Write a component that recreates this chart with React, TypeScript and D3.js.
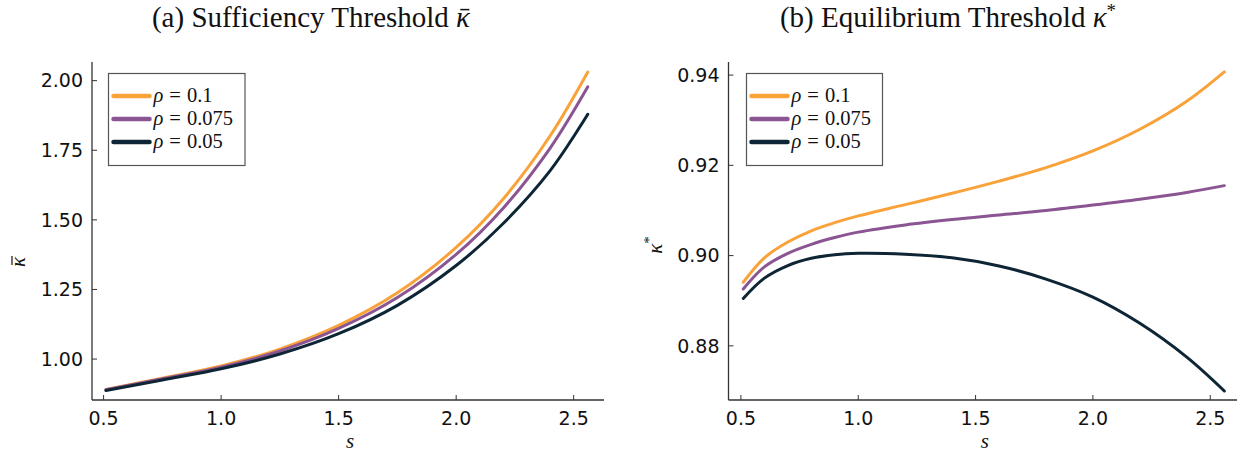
import React, { useEffect, useRef } from "react";
import * as d3 from "d3";

// Solver grid (s) and thresholds for each discount rate
const rhoLabels = ["0.1", "0.075", "0.05"];
const seriesColors = ["#f9a23a", "#8b5492", "#0d2535"];

const sGridBar = [0.51, 0.75, 1.0, 1.25, 1.5, 1.75, 2.0, 2.2, 2.4, 2.56];
const kappaBarRho10 = [0.891, 0.931, 0.975, 1.036, 1.121, 1.238, 1.401, 1.575, 1.802, 2.031];
const kappaBarRho075 = [0.890, 0.929, 0.971, 1.029, 1.110, 1.221, 1.376, 1.542, 1.758, 1.978];
const kappaBarRho05 = [0.887, 0.925, 0.965, 1.018, 1.091, 1.193, 1.336, 1.487, 1.677, 1.879];

const sGridStar = [0.51, 0.6, 0.7, 0.8, 0.9, 1.0, 1.2, 1.4, 1.6, 1.8, 2.0, 2.2, 2.4, 2.56];
const kappaStarRho10 = [0.8941, 0.8995, 0.9030, 0.9055, 0.9073, 0.9088, 0.9113, 0.9138, 0.9165, 0.9195, 0.9232, 0.9280, 0.9342, 0.9407];
const kappaStarRho075 = [0.8926, 0.8975, 0.9005, 0.9025, 0.9040, 0.9052, 0.9068, 0.9080, 0.9090, 0.9100, 0.9112, 0.9125, 0.9140, 0.9155];
const kappaStarRho05 = [0.8905, 0.8950, 0.8978, 0.8994, 0.9002, 0.9005, 0.9003, 0.8995, 0.8977, 0.8948, 0.8908, 0.8850, 0.8775, 0.8700];

const xTicks = [0.5, 1.0, 1.5, 2.0, 2.5];
const yTicksBar = [1.0, 1.25, 1.5, 1.75, 2.0];
const yTicksStar = [0.88, 0.9, 0.92, 0.94];

type Panel = {
  left: number;
  right: number;
  top: number;
  bottom: number;
  xDomain: [number, number];
  yDomain: [number, number];
  xs: number[];
  series: number[][];
  yTicks: number[];
  title: string;
  bar: boolean;
  sup: string;
  titleX: number;
  yLabelX: number;
  yLabelY: number;
  legend: { x: number; y: number; w: number; h: number };
};

const panels: Panel[] = [
  {
    left: 92,
    right: 604,
    top: 62,
    bottom: 400,
    xDomain: [0.4507, 2.629],
    yDomain: [0.853, 2.067],
    xs: sGridBar,
    series: [kappaBarRho10, kappaBarRho075, kappaBarRho05],
    yTicks: yTicksBar,
    title: "(a) Sufficiency Threshold ",
    bar: true,
    sup: "",
    titleX: 311,
    yLabelX: 25,
    yLabelY: 262,
    legend: { x: 108.5, y: 73.5, w: 136.5, h: 92 },
  },
  {
    left: 728.5,
    right: 1237,
    top: 62,
    bottom: 400,
    xDomain: [0.4471, 2.614],
    yDomain: [0.868, 0.9429],
    xs: sGridStar,
    series: [kappaStarRho10, kappaStarRho075, kappaStarRho05],
    yTicks: yTicksStar,
    title: "(b) Equilibrium Threshold ",
    bar: false,
    sup: "*",
    titleX: 948,
    yLabelX: 662,
    yLabelY: 245,
    legend: { x: 746.5, y: 73.5, w: 136, h: 92 },
  },
];

export default function App() {
  const ref = useRef<SVGSVGElement | null>(null);

  useEffect(() => {
    const svg = d3.select(ref.current);
    svg.selectAll("*").remove();

    panels.forEach((p) => {
      const x = d3.scaleLinear().domain(p.xDomain).range([p.left, p.right]);
      const y = d3.scaleLinear().domain(p.yDomain).range([p.bottom, p.top]);
      const g = svg.append("g");

      // Title
      const titleSize = 29;
      const titleBase = 27;
      const t = g
        .append("text")
        .attr("x", p.titleX)
        .attr("y", titleBase)
        .attr("text-anchor", "middle")
        .attr("font-family", "'Liberation Serif', serif")
        .attr("font-size", titleSize)
        .attr("fill", "#111");
      t.append("tspan").text(p.title);
      t.append("tspan").attr("font-style", "italic").text("κ");
      if (p.sup) {
        t.append("tspan").attr("dy", -10).attr("font-size", 19).text(p.sup);
      }
      if (p.bar) {
        const node = t.node() as SVGTextElement;
        const ext = node.getExtentOfChar(p.title.length);
        const by = titleBase - titleSize * 0.6;
        g.append("line")
          .attr("x1", ext.x + ext.width * 0.3)
          .attr("x2", ext.x + ext.width * 0.95)
          .attr("y1", by)
          .attr("y2", by)
          .attr("stroke", "#111")
          .attr("stroke-width", 1.5);
      }

      // Curves
      const line = d3
        .line<[number, number]>()
        .x((d) => x(d[0]))
        .y((d) => y(d[1]))
        .curve(d3.curveCatmullRom.alpha(0.5));
      p.series.forEach((vals, i) => {
        const pts: [number, number][] = p.xs.map((s, j) => [s, vals[j]]);
        g.append("path")
          .attr("d", line(pts) as string)
          .attr("fill", "none")
          .attr("stroke", seriesColors[i])
          .attr("stroke-width", 3)
          .attr("stroke-linecap", "round");
      });

      // Spines
      g.append("line")
        .attr("x1", p.left)
        .attr("x2", p.right)
        .attr("y1", p.bottom)
        .attr("y2", p.bottom)
        .attr("stroke", "#333")
        .attr("stroke-width", 1.3);
      g.append("line")
        .attr("x1", p.left)
        .attr("x2", p.left)
        .attr("y1", p.top)
        .attr("y2", p.bottom)
        .attr("stroke", "#333")
        .attr("stroke-width", 1.3);

      // X ticks (pointing inward)
      xTicks.forEach((v) => {
        g.append("line")
          .attr("x1", x(v))
          .attr("x2", x(v))
          .attr("y1", p.bottom)
          .attr("y2", p.bottom - 5)
          .attr("stroke", "#333")
          .attr("stroke-width", 1);
        g.append("text")
          .attr("x", x(v))
          .attr("y", p.bottom + 25)
          .attr("text-anchor", "middle")
          .attr("font-family", "'DejaVu Sans', sans-serif")
          .attr("font-size", 19)
          .attr("fill", "#111")
          .text(d3.format(".1f")(v));
      });

      // Y ticks
      const fmt = d3.format(".2f");
      p.yTicks.forEach((v) => {
        g.append("line")
          .attr("x1", p.left)
          .attr("x2", p.left + 5)
          .attr("y1", y(v))
          .attr("y2", y(v))
          .attr("stroke", "#333")
          .attr("stroke-width", 1);
        g.append("text")
          .attr("x", p.left - 9)
          .attr("y", y(v))
          .attr("dy", "0.36em")
          .attr("text-anchor", "end")
          .attr("font-family", "'DejaVu Sans', sans-serif")
          .attr("font-size", 19)
          .attr("fill", "#111")
          .text(fmt(v));
      });

      // X axis label
      g.append("text")
        .attr("x", (p.left + p.right) / 2 + 2)
        .attr("y", 448)
        .attr("text-anchor", "middle")
        .attr("font-family", "'Liberation Serif', serif")
        .attr("font-style", "italic")
        .attr("font-size", 21)
        .attr("fill", "#111")
        .text("s");

      // Y axis label (rotated)
      const yg = g
        .append("g")
        .attr("transform", `translate(${p.yLabelX},${p.yLabelY}) rotate(-90)`);
      const yl = yg
        .append("text")
        .attr("x", 0)
        .attr("y", 0)
        .attr("text-anchor", "middle")
        .attr("font-family", "'Liberation Serif', serif")
        .attr("font-size", 21)
        .attr("fill", "#111");
      yl.append("tspan").attr("font-style", "italic").text("κ");
      if (p.sup) {
        yl.append("tspan").attr("dy", -8).attr("font-size", 15).text(p.sup);
      }
      if (p.bar) {
        yg.append("line")
          .attr("x1", -3)
          .attr("x2", 6)
          .attr("y1", -13)
          .attr("y2", -13)
          .attr("stroke", "#111")
          .attr("stroke-width", 1.2);
      }

      // Legend
      const L = p.legend;
      g.append("rect")
        .attr("x", L.x)
        .attr("y", L.y)
        .attr("width", L.w)
        .attr("height", L.h)
        .attr("fill", "#fff")
        .attr("stroke", "#555")
        .attr("stroke-width", 1.2);
      rhoLabels.forEach((lab, i) => {
        const ly = L.y + 22.5 + i * 23;
        g.append("line")
          .attr("x1", L.x + 5)
          .attr("x2", L.x + 41)
          .attr("y1", ly)
          .attr("y2", ly)
          .attr("stroke", seriesColors[i])
          .attr("stroke-width", 4.5)
          .attr("stroke-linecap", "round");
        const tx = g
          .append("text")
          .attr("x", L.x + 45)
          .attr("y", ly + 6)
          .attr("font-family", "'Liberation Serif', serif")
          .attr("font-size", 20.5)
          .attr("fill", "#111");
        tx.append("tspan").attr("font-style", "italic").text("ρ");
        tx.append("tspan").attr("dx", 6).text("=");
        tx.append("tspan").attr("dx", 6).text(lab);
      });
    });
  }, []);

  return (
    <svg
      ref={ref}
      width={1241}
      height={455}
      style={{ position: "absolute", left: 0, top: 0, background: "#fff" }}
    />
  );
}
